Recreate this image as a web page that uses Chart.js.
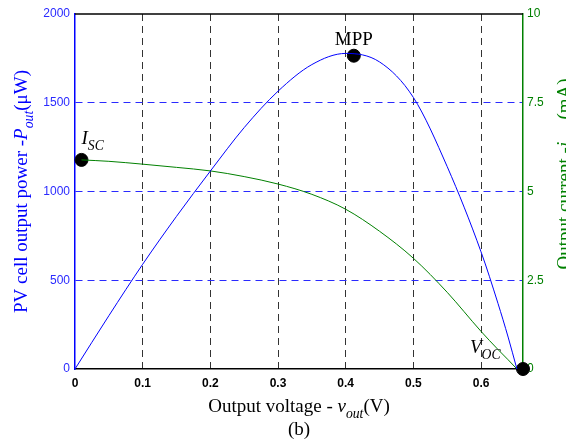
<!DOCTYPE html>
<html>
<head>
<meta charset="utf-8">
<script src="https://cdn.jsdelivr.net/npm/chart.js@4"></script>
<style>
  html, body { margin: 0; padding: 0; background: #fff; }
  canvas { display: block; }
</style>
</head>
<body>
<canvas id="pvChart" width="566" height="448"></canvas>
<script>
// PV cell curves

// power curve: voltage (V) and power (uW)
const powerVoltage = [0, 0.05, 0.1, 0.15, 0.2, 0.25, 0.3, 0.35, 0.4, 0.45, 0.5, 0.55, 0.6, 0.625, 0.64, 0.653];
const powerUW = [0, 300, 590, 860, 1115, 1360, 1565, 1715, 1778, 1730, 1530, 1140, 660, 370, 180, 0];

// current curve: voltage (V) and current (mA)
const currentVoltage = [0.0096, 0.05, 0.1, 0.15, 0.2, 0.25, 0.3, 0.35, 0.4, 0.45, 0.5, 0.55, 0.6, 0.625, 0.64, 0.653];
const currentMA = [5.89, 5.85, 5.77, 5.68, 5.58, 5.42, 5.21, 4.92, 4.50, 3.88, 3.12, 2.16, 1.06, 0.55, 0.26, 0];

// marked points
const mppPoint = { v: 0.412, p: 1765 };
const iscPoint = { v: 0.0096, i: 5.89 };
const vocPoint = { v: 0.662, i: 0 };

// tick labels
const voltageTicks = [0, 0.1, 0.2, 0.3, 0.4, 0.5, 0.6];
const powerTicks = [0, 500, 1000, 1500, 2000];
const currentTicks = [0, 2.5, 5, 7.5, 10];

const serif = '"Liberation Serif", "Times New Roman", serif';
const sans = '"Liberation Sans", Arial, sans-serif';
const blue = '#0000ff';
const green = '#008000';

// draw text made of runs: { t, it (italic), sub (subscript) }
function drawRich(ctx, runs, x, y, size, color, align, angle) {
    const fontOf = r => (r.it ? 'italic ' : '') + (r.sub ? size * 0.72 : size) + 'px ' + serif;
    let total = 0;
    runs.forEach(r => { ctx.font = fontOf(r); r.w = ctx.measureText(r.t).width; total += r.w; });
    ctx.save();
    ctx.translate(x, y);
    ctx.rotate(angle || 0);
    ctx.fillStyle = color;
    ctx.textBaseline = 'alphabetic';
    ctx.textAlign = 'left';
    let cx = align === 'center' ? -total / 2 : 0;
    runs.forEach(r => {
        ctx.font = fontOf(r);
        ctx.fillText(r.t, cx, r.sub ? size * 0.32 : 0);
        cx += r.w;
    });
    ctx.restore();
}

const labelsPlugin = {
    id: 'labels',
    afterDraw(chart) {
        const ctx = chart.ctx;
        const a = chart.chartArea;
        const x = chart.scales.x, y = chart.scales.y, y1 = chart.scales.y1;

        // top frame line
        ctx.save();
        ctx.strokeStyle = '#000';
        ctx.lineWidth = 1.5;
        ctx.beginPath();
        ctx.moveTo(a.left, a.top);
        ctx.lineTo(a.right, a.top);
        ctx.stroke();
        ctx.restore();

        // axis titles
        drawRich(ctx, [{ t: 'Output voltage - ' }, { t: 'v', it: true }, { t: 'out', it: true, sub: true }, { t: '(V)' }],
            (a.left + a.right) / 2, 412, 19, '#000', 'center');
        drawRich(ctx, [{ t: '(b)' }], (a.left + a.right) / 2, 435, 19, '#000', 'center');
        drawRich(ctx, [{ t: 'PV cell output power -' }, { t: 'P', it: true }, { t: 'out', it: true, sub: true }, { t: '(\u03bcW)' }],
            27, (a.top + a.bottom) / 2, 19, blue, 'center', -Math.PI / 2);
        drawRich(ctx, [{ t: 'Output current -' }, { t: 'i', it: true }, { t: 'out', it: true, sub: true }, { t: ' (mA)' }],
            570, 174, 19, green, 'center', -Math.PI / 2);

        // point labels
        const mx = x.getPixelForValue(mppPoint.v), my = y.getPixelForValue(mppPoint.p);
        drawRich(ctx, [{ t: 'MPP' }], mx, my - 11, 19, '#000', 'center');
        const ix = x.getPixelForValue(iscPoint.v), iy = y1.getPixelForValue(iscPoint.i);
        drawRich(ctx, [{ t: 'I', it: true }, { t: 'SC', it: true, sub: true }], ix, iy - 16, 19, '#000', 'left');
        const vx = x.getPixelForValue(vocPoint.v), vy = y1.getPixelForValue(vocPoint.i);
        drawRich(ctx, [{ t: 'V', it: true }, { t: 'OC', it: true, sub: true }], vx - 53, vy - 16, 19, '#000', 'left');
    }
};

const ctxPV = document.getElementById('pvChart').getContext('2d');
const pvChart = new Chart(ctxPV, {
    type: 'scatter',
    data: {
        datasets: [
            {
                label: 'Power',
                data: powerVoltage.map((v, k) => ({ x: v, y: powerUW[k] })),
                yAxisID: 'y',
                showLine: true,
                borderColor: blue,
                borderWidth: 1,
                pointRadius: 0,
                cubicInterpolationMode: 'monotone'
            },
            {
                label: 'Current',
                data: currentVoltage.map((v, k) => ({ x: v, y: currentMA[k] })),
                yAxisID: 'y1',
                showLine: true,
                borderColor: green,
                borderWidth: 1,
                pointRadius: 0,
                cubicInterpolationMode: 'monotone'
            },
            {
                label: 'MPP',
                data: [{ x: mppPoint.v, y: mppPoint.p }],
                yAxisID: 'y',
                pointRadius: 6.5,
                backgroundColor: '#000',
                borderColor: '#000',
                clip: false
            },
            {
                label: 'ISC / VOC',
                data: [{ x: iscPoint.v, y: iscPoint.i }, { x: vocPoint.v, y: vocPoint.i }],
                yAxisID: 'y1',
                pointRadius: 6.5,
                backgroundColor: '#000',
                borderColor: '#000',
                clip: false
            }
        ]
    },
    options: {
        responsive: false,
        animation: false,
        devicePixelRatio: 1,
        layout: { padding: { top: 14, left: 0, right: 0, bottom: 0 } },
        plugins: {
            legend: { display: false },
            tooltip: { enabled: false }
        },
        scales: {
            x: {
                type: 'linear',
                min: 0,
                max: 0.662,
                afterBuildTicks: s => { s.ticks = voltageTicks.map(v => ({ value: v })); },
                afterFit: s => { s.height = 79; },
                ticks: {
                    color: '#000',
                    font: { family: sans, size: 12, weight: 'bold' },
                    padding: 7,
                    maxRotation: 0,
                    callback: v => String(v)
                },
                grid: {
                    drawTicks: false,
                    color: c => (c.tick && c.tick.value === 0) ? 'rgba(0,0,0,0)' : '#333',
                    lineWidth: 1
                },
                border: { color: '#000', width: 1.5, dash: [7, 5] }
            },
            y: {
                position: 'left',
                min: 0,
                max: 2000,
                afterBuildTicks: s => { s.ticks = powerTicks.map(v => ({ value: v })); },
                afterFit: s => { s.width = 75; },
                ticks: {
                    color: '#2a2aff',
                    font: { family: sans, size: 12 },
                    padding: 5,
                    callback: v => String(v)
                },
                grid: {
                    drawTicks: false,
                    color: c => (c.tick && (c.tick.value === 0 || c.tick.value === 2000)) ? 'rgba(0,0,0,0)' : '#2a2aff',
                    lineWidth: 1
                },
                border: { color: blue, width: 1.5, dash: [7, 5] }
            },
            y1: {
                position: 'right',
                min: 0,
                max: 10,
                afterBuildTicks: s => { s.ticks = currentTicks.map(v => ({ value: v })); },
                afterFit: s => { s.width = 43; },
                ticks: {
                    color: green,
                    font: { family: sans, size: 12 },
                    padding: 4,
                    callback: v => String(v)
                },
                grid: { display: false, drawTicks: false },
                border: { color: green, width: 1.5 }
            }
        }
    },
    plugins: [labelsPlugin]
});
</script>
</body>
</html>
